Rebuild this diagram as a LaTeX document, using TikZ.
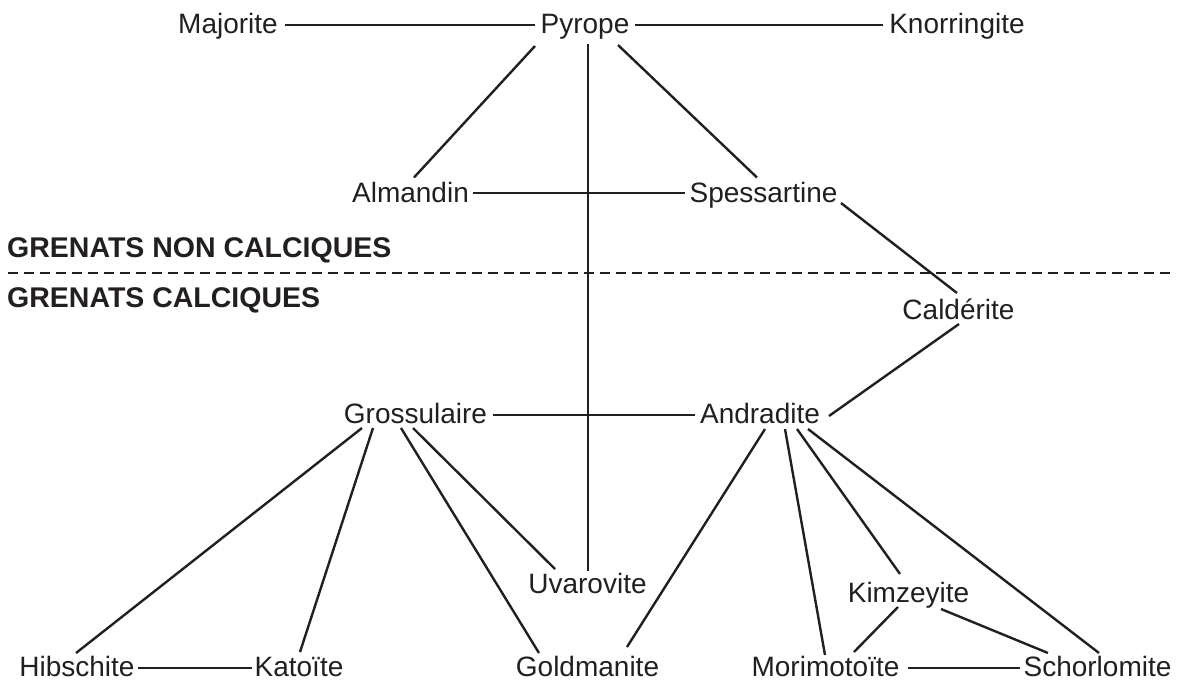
\documentclass[tikz,border=0pt]{standalone}
\usepackage{fontspec}
\setmainfont{Liberation Sans}
\usetikzlibrary{calc}
\definecolor{ink}{RGB}{35,31,32}
\begin{document}
\begin{tikzpicture}[x=1pt,y=-1pt,
  mineral/.style={inner sep=0pt,anchor=base,text=ink,font=\fontsize{28}{32}\selectfont},
  group/.style={inner sep=0pt,anchor=base west,text=ink,font=\fontsize{28.5}{32}\selectfont\bfseries},
  link/.style={draw=ink,line width=2.4pt},
  divider/.style={draw=ink,line width=2.4pt,dash pattern=on 10pt off 6pt}]
\useasboundingbox (0,0) rectangle (1179,681);
% nodes
\node[mineral] (maj) at (228,33) {Majorite};
\node[mineral] (pyr) at (585,33) {Pyrope};
\node[mineral] (kno) at (957,33) {Knorringite};
\node[mineral] (alm) at (410.5,202) {Almandin};
\node[mineral] (spe) at (763.5,202) {Spessartine};
\node[group] (nonca) at (7,257) {GRENATS NON CALCIQUES};
\node[group] (ca) at (7,307) {GRENATS CALCIQUES};
\coordinate (dl) at (8,273);
\coordinate (dr) at (1170,273);
\node[mineral] (cal) at (958.5,319) {Caldérite};
\node[mineral] (gro) at (415.5,423) {Grossulaire};
\node[mineral] (and) at (760,423) {Andradite};
\node[mineral] (uva) at (587.5,593) {Uvarovite};
\node[mineral] (kim) at (908.5,602) {Kimzeyite};
\node[mineral] (hib) at (77,676) {Hibschite};
\node[mineral] (kat) at (299,676) {Katoïte};
\node[mineral] (gol) at (587.5,676) {Goldmanite};
\node[mineral] (mor) at (825.5,676) {Morimotoïte};
\node[mineral] (sch) at (1097.5,676) {Schorlomite};
% divider
\draw[divider] (dl) -- (dr);
% connectors
\draw[link] ($(maj.base)+(57,-8)$) -- ($(pyr.base)+(-50,-8)$);
\draw[link] ($(pyr.base)+(50,-8)$) -- ($(kno.base)+(-74,-8)$);
\draw[link] ($(pyr.base)+(-50,13)$) -- ($(alm.base)+(3.5,-24.5)$);
\draw[link] ($(pyr.base)+(3,11)$) -- ($(uva.base)+(0.5,-22)$);
\draw[link] ($(pyr.base)+(33,12)$) -- ($(spe.base)+(-6.5,-24.5)$);
\draw[link] ($(alm.base)+(62.5,-9)$) -- ($(spe.base)+(-78.5,-9)$);
\draw[link] ($(spe.base)+(77.5,1)$) -- ($(cal.base)+(-1.5,-26)$);
\draw[link] ($(cal.base)+(0.5,5)$) -- ($(and.base)+(69,-7)$);
\draw[link] ($(gro.base)+(77.5,-8)$) -- ($(and.base)+(-65,-8)$);
\draw[link] ($(gro.base)+(-53.5,5)$) -- ($(hib.base)+(-1,-23)$);
\draw[link] ($(gro.base)+(-42.5,5)$) -- ($(kat.base)+(1,-24)$);
\draw[link] ($(gro.base)+(-14.5,5)$) -- ($(gol.base)+(-48.5,-23)$);
\draw[link] ($(gro.base)+(-2.5,5)$) -- ($(uva.base)+(-32.5,-24)$);
\draw[link] ($(and.base)+(5,6)$) -- ($(gol.base)+(39.5,-29)$);
\draw[link] ($(and.base)+(25,6)$) -- ($(mor.base)+(-0.5,-21)$);
\draw[link] ($(and.base)+(37,6)$) -- ($(kim.base)+(-8.5,-28)$);
\draw[link] ($(and.base)+(48,6)$) -- ($(sch.base)+(1.5,-23)$);
\draw[link] ($(kim.base)+(-10.5,5)$) -- ($(mor.base)+(28.5,-24)$);
\draw[link] ($(kim.base)+(32.5,7)$) -- ($(sch.base)+(-49.5,-23)$);
\draw[link] ($(hib.base)+(61,-8)$) -- ($(kat.base)+(-47,-8)$);
\draw[link] ($(mor.base)+(82.5,-8)$) -- ($(sch.base)+(-77.5,-8)$);
\end{tikzpicture}
\end{document}
